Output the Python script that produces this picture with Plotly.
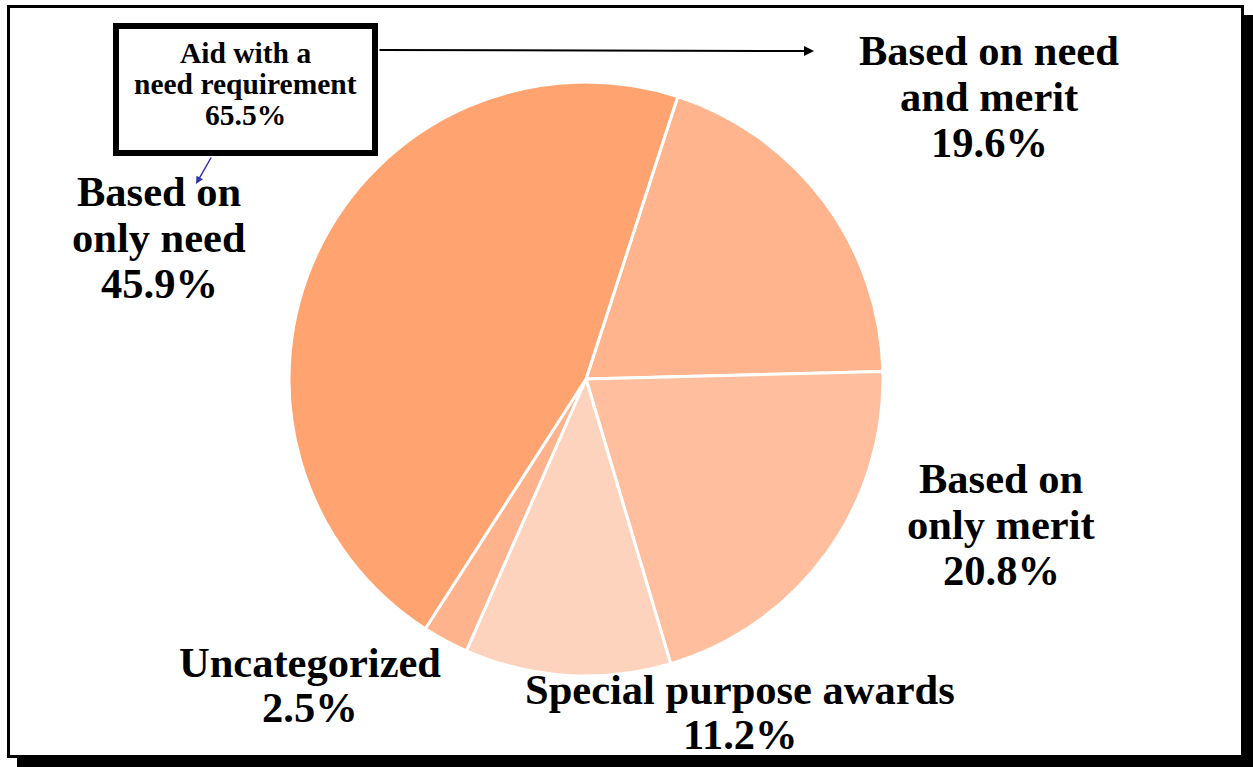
import plotly.graph_objects as go

# ---- data ----
categories = ["Based on need and merit", "Based on only merit", "Special purpose awards",
              "Uncategorized", "Based on only need"]
values = [19.6, 20.8, 11.2, 2.5, 45.9]
colors = ["#FFB48E", "#FFBF9F", "#FDD3BD", "#FFB38C", "#FFA370"]
label_lines = [["Based on need", "and merit"], ["Based on", "only merit"],
               ["Special purpose awards"], ["Uncategorized"], ["Based on", "only need"]]
group_title = ["Aid with a", "need requirement"]
group_members = ["Based on only need", "Based on need and merit"]
group_value = round(sum(v for c, v in zip(categories, values) if c in group_members), 1)

W, H = 1253, 767
FONT = "Liberation Serif"


def px(x):
    return x / W


def py(y):
    return 1 - y / H


cx, cy, r = 586, 379, 297

fig = go.Figure(go.Pie(
    labels=categories, values=values, sort=False, direction="clockwise", rotation=18,
    marker=dict(colors=colors, line=dict(color="white", width=3)),
    textinfo="none", hoverinfo="label+percent", showlegend=False,
    domain=dict(x=[px(cx - r), px(cx + r)], y=[py(cy + r), py(cy - r)]),
))

# label layout (centre x, first line y, line spacing)
label_pos = [(989, 51, 46), (1001, 478, 46), (740, 689, 45), (310, 662, 45), (159, 191, 46)]
annotations = []
for lines, v, (lx, ly, sp) in zip(label_lines, values, label_pos):
    all_lines = lines + [f"{v}%"]
    for i, t in enumerate(all_lines):
        annotations.append(dict(
            x=px(lx), y=py(ly + i * sp), xref="paper", yref="paper", text=t,
            showarrow=False, xanchor="center", yanchor="middle",
            font=dict(family=FONT, size=42.5, color="black", weight="bold")))

# boxed group label
box_lines = group_title + [f"{group_value}%"]
for i, t in enumerate(box_lines):
    annotations.append(dict(
        x=px(245.5), y=py(53 + i * 31), xref="paper", yref="paper", text=t,
        showarrow=False, xanchor="center", yanchor="middle",
        font=dict(family=FONT, size=29.5, color="black", weight="bold")))

# arrows
annotations.append(dict(x=px(814), y=py(51), xref="paper", yref="paper", text="",
                        showarrow=True, ax=-436, ay=-1, axref="pixel", ayref="pixel",
                        arrowcolor="black", arrowwidth=2, arrowhead=2, arrowsize=1, standoff=0))
annotations.append(dict(x=px(196), y=py(184), xref="paper", yref="paper", text="",
                        showarrow=True, ax=16, ay=-28, axref="pixel", ayref="pixel",
                        arrowcolor="#3333AA", arrowwidth=1.5, arrowhead=2, arrowsize=1, standoff=0))

shapes = [
    dict(type="rect", xref="paper", yref="paper", x0=px(17), x1=px(1253), y0=py(767), y1=py(15),
         fillcolor="black", line=dict(width=0), layer="below"),
    dict(type="rect", xref="paper", yref="paper", x0=px(8.5), x1=px(1242.5), y0=py(756.5), y1=py(6.5),
         fillcolor="white", line=dict(color="black", width=3), layer="below"),
    dict(type="rect", xref="paper", yref="paper", x0=px(116), x1=px(375), y0=py(153), y1=py(26),
         fillcolor="white", line=dict(color="black", width=6), layer="above"),
]

fig.update_layout(
    width=W, height=H, margin=dict(l=0, r=0, t=0, b=0),
    paper_bgcolor="white", plot_bgcolor="white",
    shapes=shapes, annotations=annotations,
)

fig.write_html("out.html", config={"displayModeBar": False},
               post_script="document.body.style.margin='0';document.body.style.overflow='hidden';")
